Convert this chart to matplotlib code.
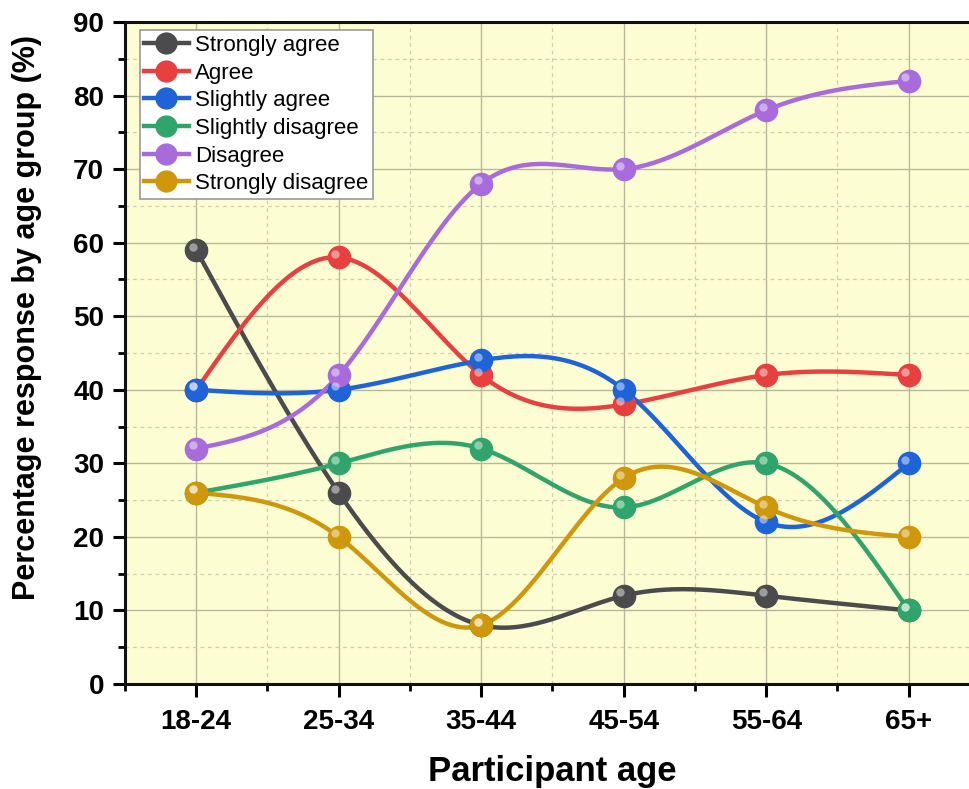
import numpy as np
import matplotlib
matplotlib.use("Agg")
import matplotlib.pyplot as plt
from matplotlib.transforms import offset_copy
from matplotlib.ticker import MultipleLocator

plt.rcParams['font.family'] = ['Liberation Sans', 'DejaVu Sans']

ages = ["18-24", "25-34", "35-44", "45-54", "55-64", "65+"]
strongly_agree = [59, 26, 8, 12, 12, 10]
agree = [40, 58, 42, 38, 42, 42]
slightly_agree = [40, 40, 44, 40, 22, 30]
slightly_disagree = [26, 30, 32, 24, 30, 10]
disagree = [32, 42, 68, 70, 78, 82]
strongly_disagree = [26, 20, 8, 28, 24, 20]

series = [
    ("Strongly agree", strongly_agree, "#4b4b4d"),
    ("Agree", agree, "#e8403f"),
    ("Slightly agree", slightly_agree, "#1e63d8"),
    ("Slightly disagree", slightly_disagree, "#30a56b"),
    ("Disagree", disagree, "#a86bdc"),
    ("Strongly disagree", strongly_disagree, "#cf980c"),
]


def natural_spline(x, y, n=300):
    # natural cubic spline through the points (like Origin's spline line)
    x = np.asarray(x, float)
    y = np.asarray(y, float)
    k = len(x)
    h = np.diff(x)
    A = np.zeros((k, k))
    b = np.zeros(k)
    A[0, 0] = A[-1, -1] = 1
    for i in range(1, k - 1):
        A[i, i - 1] = h[i - 1]
        A[i, i] = 2 * (h[i - 1] + h[i])
        A[i, i + 1] = h[i]
        b[i] = 6 * ((y[i + 1] - y[i]) / h[i] - (y[i] - y[i - 1]) / h[i - 1])
    M = np.linalg.solve(A, b)
    xs = np.linspace(x[0], x[-1], n)
    ys = np.empty_like(xs)
    for j, t in enumerate(xs):
        i = min(np.searchsorted(x, t, side="right") - 1, k - 2)
        hi = h[i]
        a = (x[i + 1] - t) / hi
        c = (t - x[i]) / hi
        ys[j] = (a * y[i] + c * y[i + 1]
                 + ((a ** 3 - a) * M[i] + (c ** 3 - c) * M[i + 1]) * hi ** 2 / 6)
    return xs, ys


fig = plt.figure(figsize=(9.70, 7.89), dpi=100)
ax = fig.add_axes([125 / 970, 1 - 684 / 789, 855 / 970, 662 / 789])
ax.set_facecolor("#fdfdd4")

x = np.arange(len(ages))
hl = offset_copy(ax.transData, fig=fig, x=-2.5, y=2.5, units="points")
for name, vals, col in series:
    xs, ys = natural_spline(x, vals)
    ax.plot(xs, ys, color=col, lw=3.2, zorder=3, solid_capstyle="round")
    ax.plot(x, vals, "o", ms=16, color=col, mec=col, zorder=4)
    ax.plot(x, vals, "o", ms=6, color="white", mec="none", alpha=0.45,
            zorder=5, transform=hl)
    ax.plot([], [], "-o", color=col, lw=3.2, ms=15, label=name)

ax.set_xlim(-0.5, 5.5)
ax.set_ylim(0, 90)
ax.set_xticks(x)
ax.set_xticklabels(ages)
ax.xaxis.set_minor_locator(MultipleLocator(0.5))
ax.yaxis.set_major_locator(MultipleLocator(10))
ax.yaxis.set_minor_locator(MultipleLocator(5))

ax.grid(which="major", color="#b9b79a", lw=1.0, ls="-", zorder=0)
ax.grid(which="minor", color="#cfcdb0", lw=0.9, ls=(0, (3, 3)), zorder=0)
ax.set_axisbelow(True)

for s in ["left", "bottom", "top"]:
    ax.spines[s].set_linewidth(2.2)
    ax.spines[s].set_color("#111111")
ax.spines["right"].set_visible(False)

ax.tick_params(which="major", direction="out", length=9, width=2.2,
               labelsize=20, pad=6)
ax.tick_params(axis="x", which="major", pad=9)
ax.tick_params(which="minor", direction="out", length=5, width=2.0)
ax.tick_params(axis="x", which="both", top=False)
for lab in ax.get_xticklabels() + ax.get_yticklabels():
    lab.set_fontweight("bold")

ax.set_xlabel("Participant age", fontsize=25, fontweight="bold")
ax.xaxis.set_label_coords(0.5, -0.108)
ax.set_ylabel("Percentage response by age group (%)", fontsize=22,
              fontweight="bold")
ax.yaxis.set_label_coords(-0.097, 0.554)

leg = ax.legend(loc="upper left", bbox_to_anchor=(0.012, 0.994), fontsize=16,
                frameon=True, fancybox=False, handlelength=2.0,
                handletextpad=0.3, labelspacing=0.3, borderpad=0.2,
                borderaxespad=0.2)
leg.get_frame().set_edgecolor("#999999")
leg.get_frame().set_linewidth(1.2)
leg.get_frame().set_facecolor("white")
leg.get_frame().set_alpha(1)

fig.savefig("out.png", dpi=100)
